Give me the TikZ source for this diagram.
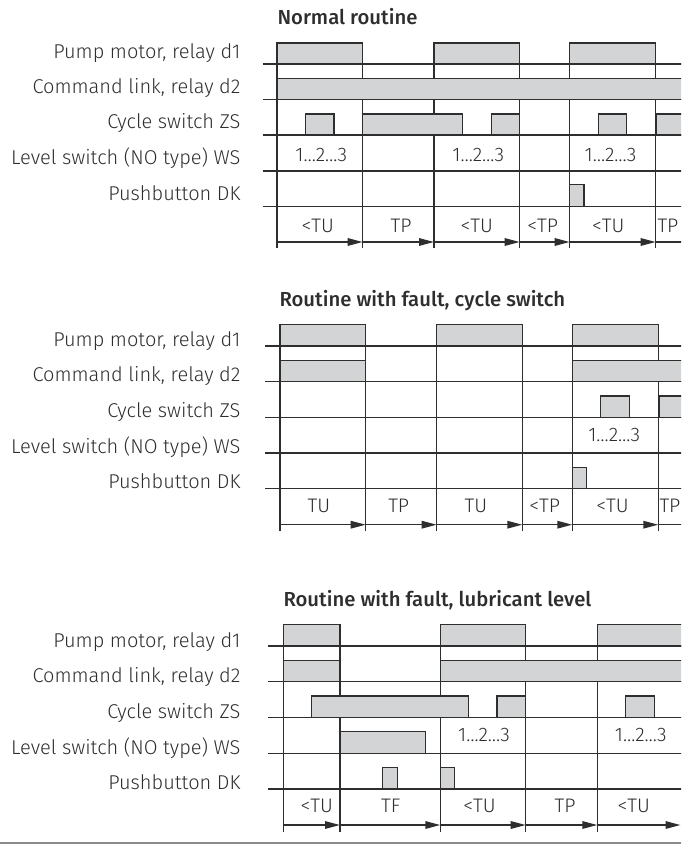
\documentclass[tikz,border=0pt]{standalone}
\usepackage{fontspec}
\IfFontExistsTF{Fira Sans Light}
  {\IfFontExistsTF{Fira Sans Medium}
     {\setmainfont{Fira Sans Light}[BoldFont={Fira Sans Medium}]}
     {\setmainfont{Fira Sans Light}[BoldFont={Fira Sans}]}}
  {\setmainfont{Fira Sans}}
\usetikzlibrary{arrows.meta}
\definecolor{ink}{HTML}{2E2E2E}
\definecolor{pulsefill}{HTML}{D3D4D6}
\definecolor{rulegray}{HTML}{8A8A8A}
\begin{document}
\begin{tikzpicture}[x=1pt,y=-1pt,
  grid/.style={draw=ink, line width=1.5pt},
  pulse/.style={fill=pulsefill, draw=ink, line width=1.5pt},
  interval/.style={draw=ink, line width=1.5pt, -{Triangle[length=15pt,width=7.5pt]}},
  rowlabel/.style={anchor=base east, inner sep=0pt, text=ink, font=\fontsize{20}{22}\selectfont},
  celltext/.style={anchor=base, inner sep=0pt, text=ink, font=\fontsize{19.6}{22}\selectfont},
  heading/.style={anchor=base west, inner sep=0pt, text=ink, font=\bfseries\fontsize{20.3}{23}\selectfont}]
\useasboundingbox (0,0) rectangle (681,845);
\clip (0,0) rectangle (681,845);

% ---------------- Normal routine ----------------
\node[heading] (h1) at (277.3,25) {Normal routine};
\node[rowlabel] (a1) at (240.7,58.3)  {Pump motor, relay d1};
\node[rowlabel] (a2) at (240.7,93.3)  {Command link, relay d2};
\node[rowlabel] (a3) at (240.7,128.9) {Cycle switch ZS};
\node[rowlabel] (a4) at (240.7,164.5) {Level switch (NO type) WS};
\node[rowlabel] (a5) at (240.7,200.1) {Pushbutton DK};
\foreach \y in {64,99.6,135.2,170.8,206.4} \draw[grid] (262.7,\y) -- (690,\y);
\foreach \x in {277,362.7,434,519.7,569.7,655.7} \draw[grid] (\x,43) -- (\x,248);
\foreach \a/\b in {277/362.7,434/519.7,569.7/655.7} \filldraw[pulse] (\a,64) rectangle (\b,43);
\filldraw[pulse] (277,99.6) rectangle (700,78.6);
\foreach \a/\b in {305.7/334,362.7/462.3,491.3/519.7,598.3/626.7,656/700}
  \filldraw[pulse] (\a,135.2) rectangle (\b,113.8);
\filldraw[pulse] (569.7,206.4) rectangle (584,184.4);
\node[celltext] (w11) at (321.3,161) {1…2…3};
\node[celltext] (w12) at (478.3,161) {1…2…3};
\node[celltext] (w13) at (610.5,161) {1…2…3};
\foreach \a/\b [count=\i] in {277/362.7,362.7/434,434/519.7,519.7/569.7,569.7/655.7}{
  \coordinate (p1s\i) at (\a,242); \coordinate (p1e\i) at (\b,242);
  \draw[interval] (p1s\i) -- (p1e\i);}
\coordinate (p1end) at (690,242);
\draw[grid] (p1e5) -- (p1end);
\node[celltext] (c11) at (317.8,232.7) {<TU};
\node[celltext] (c12) at (401,232.7) {TP};
\node[celltext] (c13) at (476.7,232.7) {<TU};
\node[celltext] (c14) at (542.7,232.7) {<TP};
\node[celltext] (c15) at (608.3,232.7) {<TU};
\node[celltext, anchor=base west] (c16) at (657.3,232.7) {TP};

% ---------------- Routine with fault, cycle switch ----------------
\node[heading] (h2) at (279.3,306.7) {Routine with fault, cycle switch};
\node[rowlabel] (b1) at (240.7,346.5) {Pump motor, relay d1};
\node[rowlabel] (b2) at (240.7,381.9) {Command link, relay d2};
\node[rowlabel] (b3) at (240.7,417.3) {Cycle switch ZS};
\node[rowlabel] (b4) at (240.7,453.0) {Level switch (NO type) WS};
\node[rowlabel] (b5) at (240.7,488.6) {Pushbutton DK};
\foreach \y in {346,381.7,417.3,453,488.6} \draw[grid] (265.3,\y) -- (690,\y);
\foreach \x in {280,365.7,436.7,522.3,572.3,658.3} \draw[grid] (\x,324.5) -- (\x,531);
\foreach \a/\b in {280/365.7,436.7/522.3,572.3/658.3} \filldraw[pulse] (\a,346) rectangle (\b,324.5);
\filldraw[pulse] (280,381.7) rectangle (365.7,360.3);
\filldraw[pulse] (572.3,381.7) rectangle (700,360.3);
\foreach \a/\b in {600.7/629.3,659/700} \filldraw[pulse] (\a,417.3) rectangle (\b,396);
\filldraw[pulse] (572.3,488.6) rectangle (586.7,467.3);
\node[celltext] (w21) at (614.2,441.5) {1…2…3};
\foreach \a/\b [count=\i] in {280/365.7,365.7/436.7,436.7/522.3,522.3/572.3,572.3/658.3}{
  \coordinate (p2s\i) at (\a,524.7); \coordinate (p2e\i) at (\b,524.7);
  \draw[interval] (p2s\i) -- (p2e\i);}
\coordinate (p2end) at (690,524.7);
\draw[grid] (p2e5) -- (p2end);
\node[celltext] (c21) at (318.8,512.7) {TU};
\node[celltext] (c22) at (398.7,512.7) {TP};
\node[celltext] (c23) at (475.8,512.7) {TU};
\node[celltext] (c24) at (544.7,512.7) {<TP};
\node[celltext] (c25) at (612.5,512.7) {<TU};
\node[celltext, anchor=base west] (c26) at (659.3,512.7) {TP};

% ---------------- Routine with fault, lubricant level ----------------
\node[heading] (h3) at (283.3,606) {Routine with fault, lubricant level};
\node[rowlabel] (d1) at (240.7,647.3) {Pump motor, relay d1};
\node[rowlabel] (d2) at (240.7,682.7) {Command link, relay d2};
\node[rowlabel] (d3) at (240.7,718.3) {Cycle switch ZS};
\node[rowlabel] (d4) at (240.7,754.0) {Level switch (NO type) WS};
\node[rowlabel] (d5) at (240.7,789.6) {Pushbutton DK};
\foreach \y in {646,681.7,717.3,753.3,789} \draw[grid] (268.3,\y) -- (690,\y);
\foreach \x in {283.3,340,440.3,525.7,597.3} \draw[grid] (\x,624.5) -- (\x,831.7);
\foreach \a/\b in {283.3/340,440.3/525.7,597.3/700} \filldraw[pulse] (\a,646) rectangle (\b,624.5);
\filldraw[pulse] (283.3,681.7) rectangle (340,660.3);
\filldraw[pulse] (440.3,681.7) rectangle (700,660.3);
\foreach \a/\b in {311.7/468.7,497/525.7,625.7/654.3} \filldraw[pulse] (\a,717.3) rectangle (\b,696);
\filldraw[pulse] (340,753.3) rectangle (425.7,731.7);
\foreach \a/\b in {382.7/397.3,440.3/454.3} \filldraw[pulse] (\a,789) rectangle (\b,767.3);
\node[celltext] (w31) at (484,741.5) {1…2…3};
\node[celltext] (w32) at (640.8,741.5) {1…2…3};
\foreach \a/\b [count=\i] in {283.3/340,340/440.3,440.3/525.7,525.7/597.3,597.3/680.5}{
  \coordinate (p3s\i) at (\a,825); \coordinate (p3e\i) at (\b,825);
  \draw[interval] (p3s\i) -- (p3e\i);}
\node[celltext] (c31) at (316.7,812.7) {<TU};
\node[celltext] (c32) at (390.8,812.7) {TF};
\node[celltext] (c33) at (479.5,812.7) {<TU};
\node[celltext] (c34) at (565,812.7) {TP};
\node[celltext] (c35) at (633.8,812.7) {<TU};

% closing rule
\coordinate (r0) at (0,842.5);
\coordinate (r1) at (681,842.5);
\draw[draw=rulegray, line width=2pt] (r0) -- (r1);
\end{tikzpicture}
\end{document}
